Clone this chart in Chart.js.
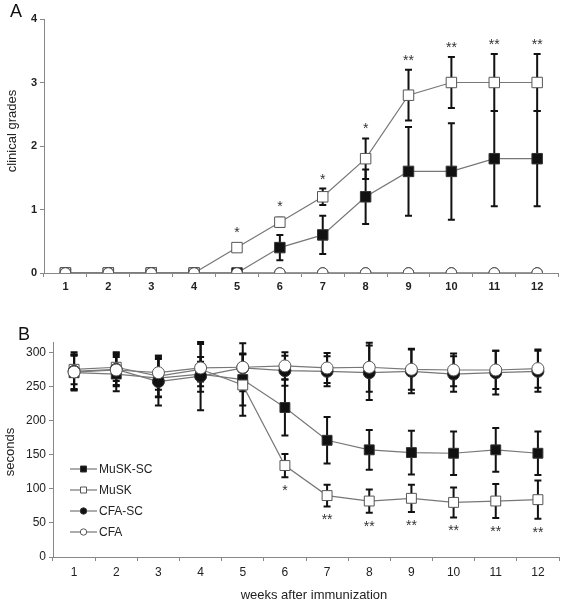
<!DOCTYPE html>
<html>
<head>
<meta charset="utf-8">
<title>Clinical grades and seconds after immunization</title>
<script src="https://cdn.jsdelivr.net/npm/chart.js@4.4.0/dist/chart.umd.min.js"></script>
<style>
body{margin:0;background:#fff;font-family:"Liberation Sans",Arial,sans-serif;}
#page{position:relative;width:567px;height:601px;overflow:hidden;}
.panel{position:absolute;left:0;width:567px;}
.panel canvas{display:block;}
.letter{position:absolute;font-size:18px;line-height:18px;color:#111;}
.ttl{position:absolute;font-size:13px;line-height:13px;color:#222;white-space:nowrap;transform:translate(-50%,-50%);}
.ttl.v{transform:translate(-50%,-50%) rotate(-90deg);}
</style>
<script>
// weeks after immunization
var weeks = ['1','2','3','4','5','6','7','8','9','10','11','12'];

// panel A : clinical grades (mean, SD)
var aMuskSc   = [0, 0, 0, 0, 0, 0.4, 0.6, 1.2, 1.6, 1.6, 1.8, 1.8];
var aMuskScSd = [0, 0, 0, 0, 0, 0.2, 0.3, 0.43, 0.7, 0.76, 0.75, 0.75];
var aMusk     = [0, 0, 0, 0, 0.4, 0.8, 1.2, 1.8, 2.8, 3.0, 3.0, 3.0];
var aMuskSd   = [0, 0, 0, 0, 0, 0.07, 0.13, 0.32, 0.4, 0.4, 0.45, 0.45];
var aCfaSc    = [0, 0, 0, 0, 0, 0, 0, 0, 0, 0, 0, 0];
var aCfa      = [0, 0, 0, 0, 0, 0, 0, 0, 0, 0, 0, 0];
var aStars    = ['', '', '', '', '*', '*', '*', '*', '**', '**', '**', '**'];
var aTicks    = [0, 1, 2, 3, 4];

// panel B : seconds (mean, SD)
var bMuskSc   = [270, 268, 262, 268, 260, 219, 171, 157, 153, 152, 157, 152];
var bMuskScSd = [25, 25, 28, 18, 38, 41, 34, 29, 32, 32, 32, 32];
var bMusk     = [275, 278, 265, 275, 252, 134, 90, 82, 86, 80, 82, 84];
var bMuskSd   = [22, 20, 30, 18, 45, 17, 16, 17, 20, 22, 25, 28];
var bCfaSc    = [272, 275, 257, 265, 277, 273, 272, 270, 272, 268, 270, 272];
var bCfaScSd  = [28, 25, 35, 50, 20, 22, 22, 40, 32, 26, 32, 30];
var bCfa      = [271, 274, 270, 277, 278, 280, 277, 278, 275, 274, 274, 276];
var bCfaSd    = [25, 22, 25, 35, 35, 20, 22, 36, 30, 24, 28, 28];
var bStars    = ['', '', '', '', '', '*', '**', '**', '**', '**', '**', '**'];
var bTicks    = [0, 50, 100, 150, 200, 250, 300];

var groups = ['MuSK-SC', 'MuSK', 'CFA-SC', 'CFA'];
</script>
</head>
<body>
<div id="page">
  <div class="panel" style="top:0;height:300px"><canvas id="chartA" width="567" height="300"></canvas></div>
  <div class="panel" style="top:300px;height:301px"><canvas id="chartB" width="567" height="301"></canvas></div>
  <div class="letter" style="left:10px;top:2px">A</div>
  <div class="letter" style="left:18px;top:325px">B</div>
  <div class="ttl v" style="left:11px;top:131px">clinical grades</div>
  <div class="ttl v" style="left:9px;top:452px">seconds</div>
  <div class="ttl" style="left:314px;top:594px">weeks after immunization</div>
</div>
<script>
var FONT = '"Liberation Sans", Arial, sans-serif';
var AXIS = '#888';

// marker look per group
var looks = [
  { pointStyle: 'rect',   fill: '#111', edge: '#333' },
  { pointStyle: 'rect',   fill: '#fff', edge: '#555' },
  { pointStyle: 'circle', fill: '#111', edge: '#333' },
  { pointStyle: 'circle', fill: '#fff', edge: '#555' }
];

function series( i, data, sd, stars, starSide, sqR, cirR ){
  var lk = looks[i];
  return {
    label: groups[i],
    data: data,
    sd: sd,
    stars: stars,
    starSide: starSide,
    order: 3 - i,
    borderColor: '#777',
    borderWidth: 1.2,
    pointStyle: lk.pointStyle,
    pointRadius: lk.pointStyle == 'rect' ? sqR : cirR,
    pointBackgroundColor: lk.fill,
    pointBorderColor: lk.edge,
    pointBorderWidth: 1,
    fill: false,
    tension: 0
  };
}

// SD whiskers, drawn under the markers
var errorBars = {
  id: 'errorBars',
  beforeDatasetsDraw: function( chart ){
    var ctx = chart.ctx, y = chart.scales.y;
    ctx.save();
    ctx.strokeStyle = '#111';
    ctx.lineWidth = 2;
    chart.data.datasets.forEach(function( ds, i ){
      if( !ds.sd ) return;
      chart.getDatasetMeta( i ).data.forEach(function( pt, j ){
        var s = ds.sd[j];
        if( !s ) return;
        var v = ds.data[j];
        var top = y.getPixelForValue( v + s ), bot = y.getPixelForValue( v - s );
        ctx.beginPath();
        ctx.moveTo( pt.x, top ); ctx.lineTo( pt.x, bot );
        ctx.moveTo( pt.x - 3.5, top ); ctx.lineTo( pt.x + 3.5, top );
        ctx.moveTo( pt.x - 3.5, bot ); ctx.lineTo( pt.x + 3.5, bot );
        ctx.stroke();
      });
    });
    ctx.restore();
  }
};

// significance asterisks
var starMarks = {
  id: 'starMarks',
  afterDatasetsDraw: function( chart ){
    var ctx = chart.ctx, y = chart.scales.y;
    ctx.save();
    ctx.fillStyle = '#333';
    ctx.font = '14px ' + FONT;
    ctx.textAlign = 'center';
    ctx.textBaseline = 'alphabetic';
    chart.data.datasets.forEach(function( ds, i ){
      if( !ds.stars ) return;
      chart.getDatasetMeta( i ).data.forEach(function( pt, j ){
        var txt = ds.stars[j];
        if( !txt ) return;
        var s = ds.sd[j] || 0, v = ds.data[j];
        if( ds.starSide == 'above' ){
          var edge = Math.min( y.getPixelForValue( v + s ), pt.y - 6 );
          ctx.fillText( txt, pt.x, edge - 5 );
        } else {
          var edge2 = Math.max( y.getPixelForValue( v - s ), pt.y + 6 );
          ctx.fillText( txt, pt.x, edge2 + 18 );
        }
      });
    });
    ctx.restore();
  }
};

// legend inside the plot of panel B
var insideLegend = {
  id: 'insideLegend',
  afterDraw: function( chart ){
    var ctx = chart.ctx, a = chart.chartArea;
    ctx.save();
    ctx.font = '12px ' + FONT;
    ctx.textBaseline = 'middle';
    ctx.textAlign = 'left';
    chart.data.datasets.forEach(function( ds, i ){
      var x0 = a.left + 17, yy = a.top + 127 + i * 21, lk = looks[i];
      ctx.strokeStyle = '#777';
      ctx.lineWidth = 1.2;
      ctx.beginPath(); ctx.moveTo( x0, yy ); ctx.lineTo( x0 + 27, yy ); ctx.stroke();
      ctx.fillStyle = lk.fill;
      ctx.strokeStyle = lk.edge;
      ctx.lineWidth = 1;
      ctx.beginPath();
      if( lk.pointStyle == 'rect' ) ctx.rect( x0 + 10.5, yy - 3, 6, 6 );
      else ctx.arc( x0 + 13.5, yy, 3.2, 0, Math.PI * 2 );
      ctx.fill(); ctx.stroke();
      ctx.fillStyle = '#222';
      ctx.fillText( ds.label, x0 + 29, yy + 0.5 );
    });
    ctx.restore();
  }
};

function axisX( h, font, pad ){
  return {
    type: 'category',
    offset: true,
    grid: { offset: true, drawOnChartArea: false, color: AXIS, tickLength: 4 },
    border: { color: AXIS, width: 1 },
    ticks: { color: '#222', font: font, padding: pad, maxRotation: 0, autoSkip: false },
    afterFit: function( s ){ s.height = h; }
  };
}

function axisY( w, min, max, tickList, font ){
  return {
    min: min,
    max: max,
    grid: { drawOnChartArea: false, color: AXIS, tickLength: 4 },
    border: { color: AXIS, width: 1 },
    ticks: { color: '#222', font: font, padding: 3 },
    afterBuildTicks: function( s ){
      s.ticks = tickList.map(function( v ){ return { value: v }; });
    },
    afterFit: function( s ){ s.width = w; }
  };
}

new Chart( document.getElementById( 'chartA' ), {
  type: 'line',
  data: {
    labels: weeks,
    datasets: [
      series( 0, aMuskSc, aMuskScSd, null, null, 7.4, 5.3 ),
      series( 1, aMusk, aMuskSd, aStars, 'above', 7.4, 5.3 ),
      series( 2, aCfaSc, null, null, null, 7.4, 5.3 ),
      series( 3, aCfa, null, null, null, 7.4, 5.3 )
    ]
  },
  options: {
    responsive: false,
    animation: false,
    layout: { padding: { top: 19, right: 1, left: 0, bottom: 0 } },
    plugins: { legend: { display: false }, tooltip: { enabled: false } },
    scales: {
      x: axisX( 27, { family: FONT, size: 11, weight: 'bold' }, 3 ),
      y: axisY( 44, 0, 4, aTicks, { family: FONT, size: 11, weight: 'bold' } )
    }
  },
  plugins: [ errorBars, starMarks ]
});

new Chart( document.getElementById( 'chartB' ), {
  type: 'line',
  data: {
    labels: weeks,
    datasets: [
      series( 0, bMuskSc, bMuskScSd, null, null, 7, 6 ),
      series( 1, bMusk, bMuskSd, bStars, 'below', 7, 6 ),
      series( 2, bCfaSc, bCfaScSd, null, null, 7, 6 ),
      series( 3, bCfa, bCfaSd, null, null, 7, 6 )
    ]
  },
  options: {
    responsive: false,
    animation: false,
    layout: { padding: { top: 42, right: 1, left: 0, bottom: 0 } },
    plugins: { legend: { display: false }, tooltip: { enabled: false } },
    scales: {
      x: axisX( 44, { family: FONT, size: 12 }, 4 ),
      y: axisY( 53, 0, 315, bTicks, { family: FONT, size: 12 } )
    }
  },
  plugins: [ errorBars, starMarks, insideLegend ]
});
</script>
</body>
</html>
